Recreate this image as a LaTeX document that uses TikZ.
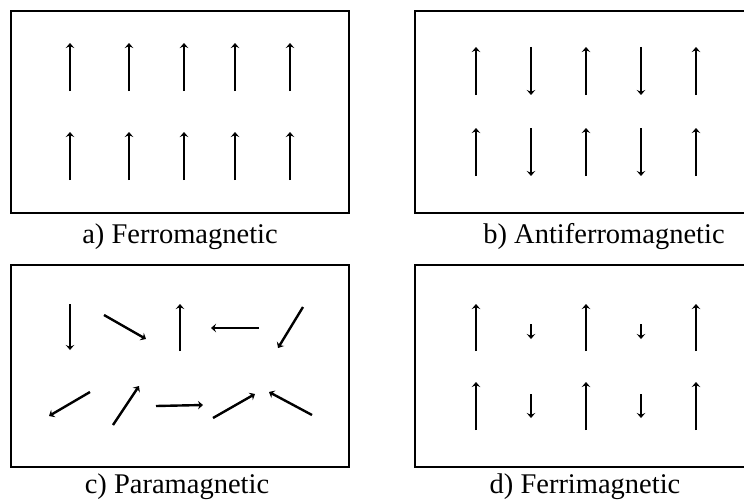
\documentclass[tikz,border=0pt]{standalone}
\usepackage{fontspec}
\setmainfont{Liberation Serif}
\usetikzlibrary{arrows.meta}
\begin{document}
\begin{tikzpicture}[x=1pt,y=-1pt,
  panel/.style={line width=2.6pt},
  spin/.style={line width=2.4pt,-{Stealth[length=5pt,width=8.5pt,inset=1.8pt]}},
  caption/.style={anchor=base,inner sep=0pt,font=\fontsize{28.5}{30}\selectfont}]
\useasboundingbox (0,0) rectangle (744,503);
% panel a
\draw[panel] (11,11) rectangle (349,213);
\foreach \x in {70,129,184,235,290} {
  \draw[spin] (\x,91) -- (\x,43);
  \draw[spin] (\x,180) -- (\x,132);
}
\node[caption] (capa) at (180,243) {a) Ferromagnetic};
% panel b
\draw[panel] (744,11) -- (415,11) -- (415,213) -- (744,213);
\foreach \x in {476,586,696} {
  \draw[spin] (\x,95) -- (\x,47);
  \draw[spin] (\x,176) -- (\x,128);
}
\foreach \x in {531,641} {
  \draw[spin] (\x,47) -- (\x,95);
  \draw[spin] (\x,128) -- (\x,176);
}
\node[caption] (capb) at (604,243) {b) Antiferromagnetic};
% panel c
\draw[panel] (11,265) rectangle (349,467);
\draw[spin] (70,304) -- (70,350);
\draw[spin] (104,315) -- (146,339);
\draw[spin] (180,351) -- (180,304);
\draw[spin] (259,328) -- (211,328);
\draw[spin] (303,307) -- (278,348);
\draw[spin] (90,392) -- (49,416);
\draw[spin] (113,425) -- (139,386);
\draw[spin] (156,406) -- (203,405);
\draw[spin] (213,418) -- (255,394);
\draw[spin] (312,415) -- (269,392);
\node[caption] (capc) at (177,493) {c) Paramagnetic};
% panel d
\draw[panel] (744,265) -- (415,265) -- (415,467) -- (744,467);
\foreach \x in {476,586,696} {
  \draw[spin] (\x,351) -- (\x,304);
  \draw[spin] (\x,430) -- (\x,382);
}
\foreach \x in {531,641} {
  \draw[spin] (\x,324) -- (\x,339);
  \draw[spin] (\x,394) -- (\x,418);
}
\node[caption] (capd) at (585,493) {d) Ferrimagnetic};
\end{tikzpicture}
\end{document}
